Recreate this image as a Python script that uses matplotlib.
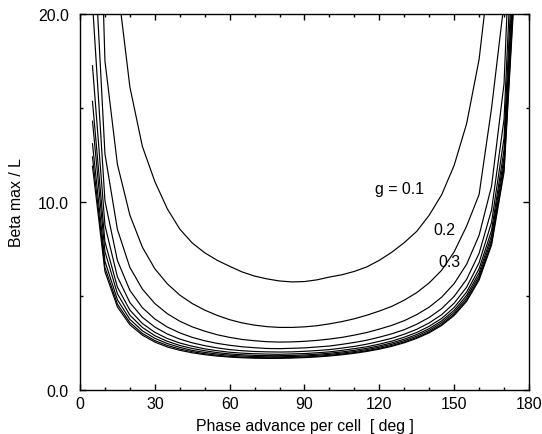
import matplotlib
matplotlib.use("Agg")
import matplotlib.pyplot as plt
from matplotlib.ticker import MultipleLocator, FormatStrFormatter

plt.rcParams['font.family'] = ['Liberation Sans', 'DejaVu Sans']

# phase advance per cell [deg]
phase = [5, 10, 15, 20, 25, 30, 35, 40, 45, 50, 55, 60, 65, 70, 75, 80, 85, 90,
         95, 100, 105, 110, 115, 120, 125, 130, 135, 140, 145, 150, 155, 160,
         165, 170, 175]

# beta max / L for each g (>20 are off-scale)
g01 = [70, 33, 21.6, 16.12, 12.96, 11.09, 9.64, 8.56, 7.82, 7.30, 6.90, 6.58,
       6.28, 6.06, 5.91, 5.80, 5.75, 5.77, 5.86, 6.01, 6.13, 6.31, 6.55, 6.90,
       7.33, 7.84, 8.44, 9.30, 10.39, 11.95, 14.17, 17.59, 23.3, 35, 70]
g02 = [40, 17.5, 12.0, 9.3, 7.6, 6.45, 5.65, 5.05, 4.6, 4.25, 3.97, 3.74, 3.57,
       3.45, 3.37, 3.33, 3.33, 3.36, 3.42, 3.52, 3.64, 3.79, 3.98, 4.2, 4.45,
       4.78, 5.18, 5.70, 6.37, 7.35, 8.72, 10.4, 15.0, 20.6, 45]
g03 = [25.3, 12.56, 8.54, 6.52, 5.37, 4.60, 4.06, 3.66, 3.36, 3.13, 2.94, 2.80,
       2.69, 2.62, 2.57, 2.55, 2.56, 2.59, 2.64, 2.71, 2.80, 2.92, 3.06, 3.24,
       3.44, 3.69, 4.01, 4.41, 4.94, 5.66, 6.69, 8.23, 10.85, 16.3, 32.5]
g04 = [20.6, 10.06, 6.89, 5.30, 4.38, 3.78, 3.35, 3.04, 2.80, 2.62, 2.48, 2.38,
       2.30, 2.25, 2.21, 2.20, 2.22, 2.24, 2.29, 2.34, 2.43, 2.53, 2.65, 2.81,
       2.99, 3.21, 3.50, 3.86, 4.33, 4.98, 5.89, 7.27, 9.58, 14.4, 28.7]
g05 = [17.25, 8.76, 6.02, 4.65, 3.87, 3.35, 2.98, 2.71, 2.51, 2.36, 2.24, 2.15,
       2.09, 2.05, 2.03, 2.02, 2.03, 2.06, 2.10, 2.15, 2.23, 2.32, 2.44, 2.59,
       2.75, 2.97, 3.23, 3.57, 4.01, 4.62, 5.47, 6.77, 8.92, 13.41, 26.7]
g06 = [15.35, 7.88, 5.47, 4.25, 3.54, 3.07, 2.74, 2.50, 2.33, 2.19, 2.09, 2.01,
       1.96, 1.93, 1.91, 1.90, 1.92, 1.94, 1.98, 2.03, 2.11, 2.20, 2.30, 2.44,
       2.60, 2.81, 3.06, 3.39, 3.81, 4.39, 5.21, 6.45, 8.49, 12.77, 25.5]
g07 = [14.3, 7.36, 5.12, 3.98, 3.33, 2.89, 2.59, 2.37, 2.21, 2.09, 1.99, 1.92,
       1.875, 1.844, 1.828, 1.826, 1.840, 1.866, 1.905, 1.956, 2.026, 2.112,
       2.218, 2.349, 2.508, 2.704, 2.951, 3.267, 3.681, 4.242, 5.037, 6.24,
       8.22, 12.36, 24.6]
g08 = [13.1, 6.85, 4.80, 3.76, 3.15, 2.75, 2.47, 2.27, 2.11, 2.00, 1.915, 1.853,
       1.809, 1.781, 1.768, 1.768, 1.782, 1.807, 1.846, 1.896, 1.964, 2.047,
       2.150, 2.278, 2.433, 2.625, 2.866, 3.176, 3.580, 4.128, 4.904, 6.079,
       8.011, 12.05, 24.0]
g09 = [12.4, 6.52, 4.57, 3.59, 3.01, 2.63, 2.37, 2.18, 2.04, 1.93, 1.85, 1.79,
       1.752, 1.728, 1.716, 1.718, 1.732, 1.757, 1.795, 1.845, 1.910, 1.991,
       2.092, 2.216, 2.368, 2.557, 2.794, 3.097, 3.493, 4.030, 4.791, 5.942,
       7.829, 11.77, 23.46]
g10 = [11.9, 6.3, 4.42, 3.47, 2.92, 2.55, 2.29, 2.113, 1.980, 1.880, 1.806,
       1.752, 1.715, 1.692, 1.682, 1.685, 1.699, 1.724, 1.761, 1.810, 1.875,
       1.954, 2.053, 2.175, 2.325, 2.512, 2.745, 3.044, 3.435, 3.965, 4.715,
       5.85, 7.71, 11.59, 23.1]

curves = [g01, g02, g03, g04, g05, g06, g07, g08, g09, g10]

fig = plt.figure(figsize=(5.42, 4.35), dpi=100)
ax = fig.add_axes([0.1476, 0.1011, 0.8284, 0.8644])

for c in curves:
    ax.plot(phase, c, color='black', lw=0.85)

FS = 11.4
ax.set_xlim(0, 180)
ax.set_ylim(0, 20)
ax.xaxis.set_major_locator(MultipleLocator(30))
ax.xaxis.set_minor_locator(MultipleLocator(10))
ax.yaxis.set_major_locator(MultipleLocator(10))
ax.yaxis.set_minor_locator(MultipleLocator(5))
ax.yaxis.set_major_formatter(FormatStrFormatter('%.1f'))
ax.tick_params(which='both', direction='in', top=True, right=True,
               labelsize=FS, width=1.0, color='black')
ax.tick_params(which='major', length=4.5)
ax.tick_params(which='minor', length=2.5)
ax.tick_params(axis='y', which='major', pad=8)
ax.tick_params(axis='x', which='major', pad=4)
for s in ax.spines.values():
    s.set_linewidth(1.0)

ax.set_xlabel('Phase advance per cell  [ deg ]', fontsize=FS, labelpad=5)
ax.set_ylabel('Beta max / L', fontsize=FS, labelpad=10)

ax.text(118.3, 10.7, 'g = 0.1', fontsize=FS, va='center', ha='left')
ax.text(141.5, 8.54, '0.2', fontsize=FS, va='center', ha='left')
ax.text(143.5, 6.84, '0.3', fontsize=FS, va='center', ha='left')

fig.savefig('out.png', dpi=100)
